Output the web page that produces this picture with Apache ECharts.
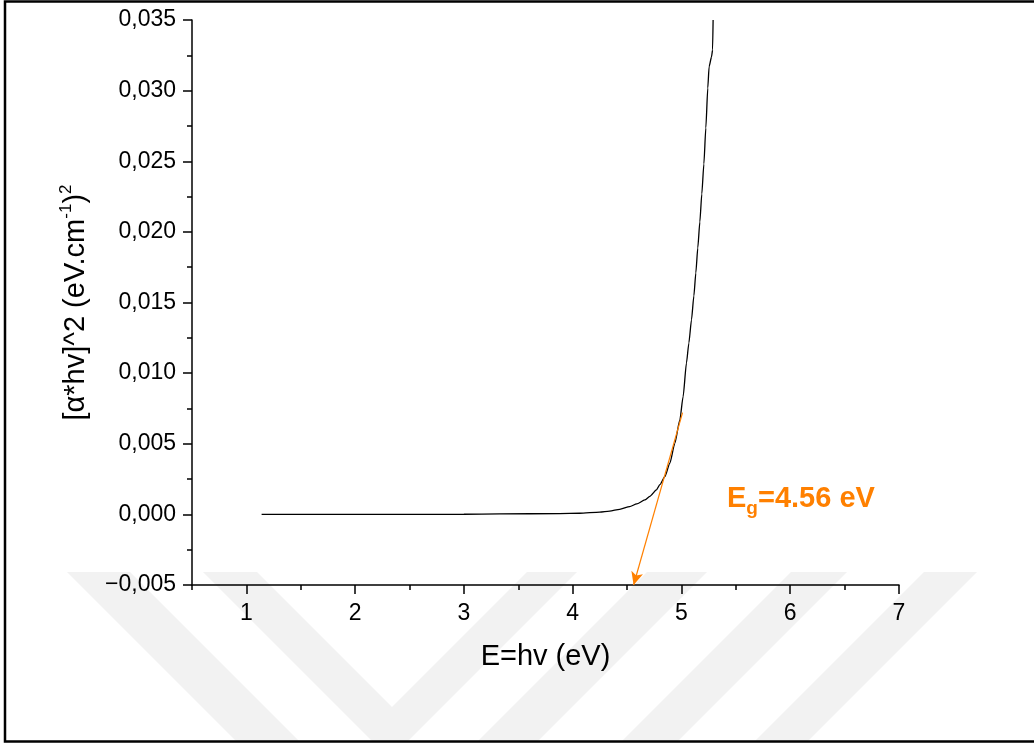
<!DOCTYPE html>
<html>
<head>
<meta charset="utf-8">
<title>Tauc plot</title>
<script src="https://cdn.jsdelivr.net/npm/echarts@6/dist/echarts.min.js"></script>
<style>
  html, body { margin: 0; padding: 0; background: #fff; }
  #chart { width: 1034px; height: 744px; }
</style>
</head>
<body>
<div id="chart"></div>
<script>
// photon energy (eV) and (alpha*hv)^2
var energy = [1.14, 1.5, 2.0, 2.5, 3.0, 3.33, 3.88, 4.064, 4.249, 4.34, 4.432, 4.524, 4.589, 4.663, 4.709, 4.77, 4.801,
  4.847, 4.893, 4.939, 4.985, 5.015, 5.046, 5.068, 5.092, 5.114, 5.132, 5.15, 5.169, 5.187, 5.206, 5.224, 5.242,
  5.254, 5.276, 5.286, 5.291];
var tauc = [0, 0, 0, 0, 0.00001, 0.00003, 0.00006, 0.00008, 0.00016, 0.00023, 0.00036, 0.00055, 0.00074, 0.00102, 0.00127, 0.00173, 0.0021,
  0.00267, 0.00362, 0.00503, 0.00668, 0.00833, 0.01072, 0.01213, 0.01376, 0.01546, 0.01709, 0.01886, 0.0207, 0.02268, 0.02481, 0.02736, 0.03019,
  0.03168, 0.03238, 0.03288, 0.035];

// tangent arrow: from point on the curve down to the band gap on the x axis
var arrowFrom = [5.01, 0.0072];
var arrowTo = [4.56, -0.005];

var xMajor = [1, 2, 3, 4, 5, 6, 7];

var orange = "#ff8000";
var font = "'Liberation Sans', Arial, sans-serif";

var points = [];
for (var i = 0; i < energy.length; i++) points.push([energy[i], tauc[i]]);

var fmtY = function (v) {
  var s = Math.abs(v) < 1e-9 ? "0.000" : v.toFixed(3);
  return s.replace(".", ",").replace("-", "\u2212");
};

// faint watermark stripes in the lower part of the page
var band = function (pts) {
  return {
    type: "polygon",
    silent: true,
    z: -10,
    shape: { points: pts },
    style: { fill: "#f2f2f2" },
  };
};

var chart = echarts.init(document.getElementById("chart"));
chart.setOption({
  animation: false,
  backgroundColor: "#fff",
  textStyle: { fontFamily: font },
  grid: { left: 192, right: 135, top: 20, bottom: 159 },
  xAxis: [
    {
      type: "value",
      min: 0.5,
      max: 7,
      interval: 0.5,
      name: "E=hv (eV)",
      nameLocation: "middle",
      nameGap: 57,
      nameTextStyle: { fontSize: 29, color: "#000", fontFamily: font },
      axisLine: { onZero: false, lineStyle: { color: "#000", width: 1.5 } },
      axisTick: { length: 5, lineStyle: { color: "#000", width: 1.5 } },
      axisLabel: {
        margin: 17,
        fontSize: 23,
        color: "#000",
        fontFamily: font,
        formatter: function (v) {
          return Math.abs(v - Math.round(v)) < 1e-9 ? String(Math.round(v)) : "";
        },
      },
      splitLine: { show: false },
    },
    {
      type: "value",
      min: 0.5,
      max: 7,
      position: "bottom",
      axisLine: { show: false, onZero: false },
      axisTick: { length: 9, customValues: xMajor, lineStyle: { color: "#000", width: 1.5 } },
      axisLabel: { show: false },
      splitLine: { show: false },
    },
  ],
  yAxis: {
    type: "value",
    min: -0.005,
    max: 0.035,
    interval: 0.005,
    name: "[\u03b1*hv]^2 (eV.cm{sup|-1}){sup|2}",
    nameLocation: "middle",
    nameGap: 97,
    nameRotate: 90,
    nameTextStyle: {
      fontSize: 29,
      color: "#000",
      fontFamily: font,
      lineHeight: 36,
      rich: {
        sup: { fontSize: 17, color: "#000", fontFamily: font, verticalAlign: "top", lineHeight: 17 },
      },
    },
    axisLine: { onZero: false, lineStyle: { color: "#000", width: 1.5 } },
    axisTick: { length: 9, lineStyle: { color: "#000", width: 1.5 } },
    minorTick: { show: true, splitNumber: 2, length: 5, lineStyle: { color: "#000", width: 1.5 } },
    axisLabel: { margin: 16, fontSize: 23, color: "#000", fontFamily: font, formatter: fmtY },
    splitLine: { show: false },
  },
  series: [
    {
      type: "line",
      data: points,
      smooth: 0.2,
      smoothMonotone: "x",
      showSymbol: false,
      lineStyle: { color: "#000", width: 1.3 },
      markLine: {
        silent: true,
        symbol: ["none", "arrow"],
        symbolSize: [9, 13],
        label: { show: false },
        lineStyle: { color: orange, width: 1.2, type: "solid" },
        data: [[{ coord: arrowFrom }, { coord: arrowTo }]],
      },
    },
  ],
  graphic: [
    band([[67, 572], [130, 572], [300, 742], [237, 742]]),
    band([[203, 572], [257, 572], [392, 707], [527, 572], [577, 572], [407, 742], [373, 742]]),
    band([[647, 572], [707, 572], [537, 742], [477, 742]]),
    band([[791, 572], [847, 572], [677, 742], [621, 742]]),
    band([[924, 572], [977, 572], [807, 742], [754, 742]]),
    {
      type: "text",
      z: 50,
      style: {
        x: 727,
        y: 499,
        verticalAlign: "middle",
        text: "E{sub|g}=4.56 eV",
        fill: orange,
        font: "bold 29px " + font,
        lineHeight: 38,
        rich: {
          sub: { fontSize: 19, fontWeight: "bold", fill: orange, verticalAlign: "bottom", lineHeight: 19 },
        },
      },
    },
    {
      type: "rect",
      z: 100,
      silent: true,
      shape: { x: 5, y: 1.5, width: 1100, height: 740 },
      style: { fill: "none", stroke: "#000", lineWidth: 2.5 },
    },
  ],
});
</script>
</body>
</html>
